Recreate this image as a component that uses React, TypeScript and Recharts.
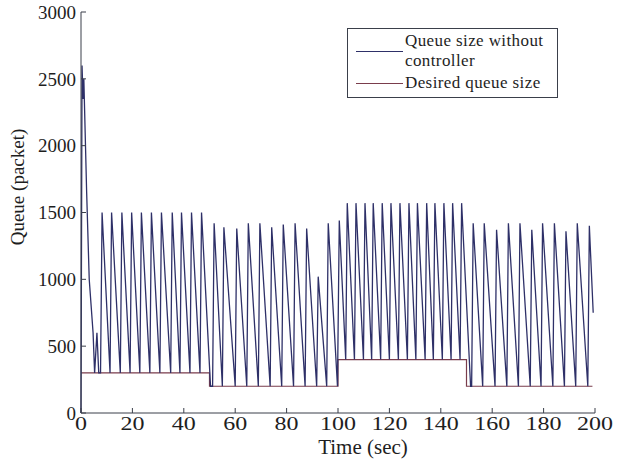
import React from "react";
import { LineChart, Line, XAxis, YAxis, Legend } from "recharts";

// Queue size without controller: vertices (time in sec, size in packets).
const queueTime = [
  0, 0.4, 0.8, 1.1, 2.2, 3.2, 4.7, 5.3, 6.2, 6.9, 7.6,
  8.2, 11.3, 11.9, 15.3, 15.9, 19.1, 19.7, 22.9, 23.5, 26.8, 27.4, 30.7, 31.3, 34.9, 35.5,
  38.5, 39.1, 42.4, 43.0, 46.3, 46.9, 50.4, 51.2,
  51.8, 55.0, 55.6, 60.0, 60.6, 64.5, 65.1, 69.0, 69.6, 73.6, 74.2, 78.1, 78.7, 82.7, 83.3,
  87.2, 87.8, 91.7, 92.3, 95.6, 96.2, 99.8,
  100.5, 103.0, 103.6, 106.4, 107.0, 109.9, 110.5, 113.1, 113.7, 116.6, 117.2, 120.0, 120.6,
  123.5, 124.1, 127.0, 127.6, 130.3, 130.9, 133.9, 134.5, 137.1, 137.7, 140.6, 141.2, 144.0,
  144.6, 147.5, 148.1, 151.6, 152.0,
  152.6, 156.3, 156.9, 161.1, 161.7, 165.7, 166.3, 170.2, 170.8, 174.8, 175.4, 179.0, 179.6,
  183.6, 184.2, 188.1, 188.7, 192.5, 193.1, 197.2, 197.8, 199.3,
];
const queueSize = [
  0, 2600, 2350, 2500, 1650, 1000, 600, 300, 600, 300, 300,
  1500, 300, 1500, 300, 1500, 300, 1500, 300, 1500, 300, 1500, 300, 1500, 300, 1500,
  300, 1500, 300, 1500, 300, 1500, 200, 200,
  1420, 200, 1390, 200, 1380, 200, 1420, 200, 1420, 200, 1390, 200, 1410, 200, 1420,
  200, 1380, 200, 1020, 200, 1420, 200,
  1440, 400, 1570, 400, 1570, 400, 1570, 400, 1570, 400, 1570, 400, 1570,
  400, 1570, 400, 1570, 400, 1570, 400, 1570, 400, 1570, 400, 1570, 400,
  1570, 400, 1570, 200, 200,
  1420, 200, 1420, 200, 1370, 200, 1420, 200, 1420, 200, 1370, 200, 1420,
  200, 1420, 200, 1360, 200, 1420, 200, 1400, 750,
];

// Desired queue size (step reference).
const desiredTime = [0, 50, 50, 100, 100, 150, 150, 199];
const desiredSize = [300, 300, 200, 200, 400, 400, 200, 200];

const xTicks = [0, 20, 40, 60, 80, 100, 120, 140, 160, 180, 200];
const yTicks = [0, 500, 1000, 1500, 2000, 2500, 3000];

const queueData = queueTime.map((t, i) => ({ t, q: queueSize[i] }));
const desiredData = desiredTime.map((t, i) => ({ t, q: desiredSize[i] }));

const FONT = '"Liberation Serif", "Times New Roman", serif';
const AXIS = "#3a3f4a";
const TEXT = "#1e1e1e";
const QUEUE_COLOR = "#2e3068";
const DESIRED_COLOR = "#7a3d4c";

// x tick labels in the original are slightly wider than plain glyphs
const XTick = (props: any) => {
  const { x, y, payload } = props;
  const label = String(payload.value);
  return (
    <text
      x={x}
      y={y}
      dy="0.71em"
      textAnchor="middle"
      fill={TEXT}
      fontSize={19}
      fontFamily={FONT}
      textLength={label.length * 12}
      lengthAdjust="spacingAndGlyphs"
    >
      {label}
    </text>
  );
};

const LegendBox = () => (
  <div
    style={{
      border: `1.5px solid ${AXIS}`,
      background: "#fff",
      padding: "2px 6px 4px 8px",
      fontFamily: FONT,
      fontSize: 17,
      lineHeight: "20px",
      color: TEXT,
    }}
  >
    <div style={{ display: "flex", alignItems: "center" }}>
      <span style={{ width: 47, borderTop: `1.5px solid ${QUEUE_COLOR}`, marginRight: 2 }} />
      <span style={{ width: 146, letterSpacing: 0.4 }}>
        Queue size without
        <br />
        controller
      </span>
    </div>
    <div style={{ display: "flex", alignItems: "center", marginTop: 2 }}>
      <span style={{ width: 47, borderTop: `1.5px solid ${DESIRED_COLOR}`, marginRight: 2 }} />
      <span style={{ width: 146, letterSpacing: 0.4 }}>Desired queue size</span>
    </div>
  </div>
);

const App = () => {
  return (
    <div style={{ position: "absolute", left: 0, top: 0, width: 622, height: 462, background: "#fff" }}>
      <LineChart width={622} height={462} margin={{ top: 12, right: 27, bottom: 9, left: 21 }}>
        <XAxis
          type="number"
          dataKey="t"
          domain={[0, 200]}
          ticks={xTicks}
          interval={0}
          height={40}
          stroke={AXIS}
          tickSize={-5}
          tickMargin={9}
          tick={<XTick />}
          label={{
            value: "Time (sec)",
            position: "insideBottom",
            offset: -1,
            dx: 25,
            fill: TEXT,
            fontSize: 21,
            fontFamily: FONT,
          }}
        />
        <YAxis
          type="number"
          domain={[0, 3000]}
          ticks={yTicks}
          interval={0}
          width={60}
          stroke={AXIS}
          tickSize={-5}
          tickMargin={10}
          tick={{ fill: TEXT, fontSize: 19, fontFamily: FONT }}
          label={{
            content: () => (
              <text
                transform="translate(24,187) rotate(-90)"
                textAnchor="middle"
                fill={TEXT}
                fontSize={19}
                fontFamily={FONT}
              >
                Queue (packet)
              </text>
            ),
          }}
        />
        <Legend
          layout="vertical"
          align="center"
          verticalAlign="middle"
          content={() => <LegendBox />}
          wrapperStyle={{ position: "absolute", left: 347, top: 28, width: "auto" }}
        />
        <Line
          data={desiredData}
          dataKey="q"
          name="Desired queue size"
          type="linear"
          stroke={DESIRED_COLOR}
          strokeWidth={1.2}
          dot={false}
          isAnimationActive={false}
        />
        <Line
          data={queueData}
          dataKey="q"
          name="Queue size without controller"
          type="linear"
          stroke={QUEUE_COLOR}
          strokeWidth={1.3}
          dot={false}
          isAnimationActive={false}
        />
      </LineChart>
    </div>
  );
};

export default App;
